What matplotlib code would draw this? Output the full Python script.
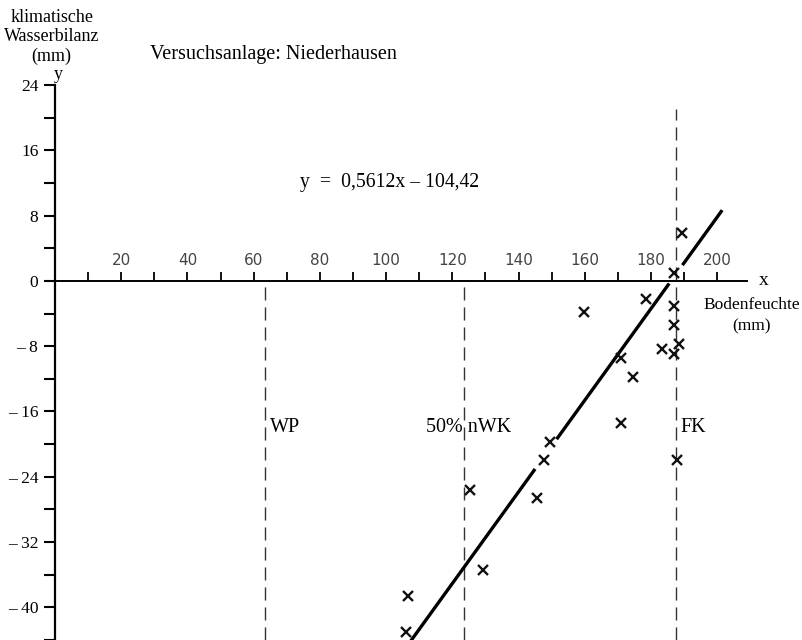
#!/usr/bin/env python3
"""Klimatische Wasserbilanz vs. Bodenfeuchte, Versuchsanlage Niederhausen."""
import matplotlib
matplotlib.use("Agg")
import matplotlib.pyplot as plt
import numpy as np

plt.rcParams["font.family"] = ["Liberation Serif", "DejaVu Serif"]

# measured points (Bodenfeuchte mm, klimatische Wasserbilanz mm)
soil_x = [186.9, 189.4, 178.5, 159.9, 187.1, 187.1, 188.4, 183.2, 187.0, 170.8,
          174.7, 170.8, 149.6, 188.0, 147.7, 125.2, 145.7, 129.3, 106.7, 106.1]
balance_y = [1.0, 5.9, -2.2, -3.8, -3.1, -5.4, -7.7, -8.4, -8.9, -9.5,
             -11.8, -17.4, -19.7, -21.9, -21.9, -25.6, -26.6, -35.4, -38.6, -43.0]

# regression y = 0,5612x - 104,42, drawn in pieces (gaps around marks / axis)
slope, intercept = 0.5612, -104.42
line_pieces = [(107.5, 145.0), (151.5, 185.5), (189.5, 201.5)]

# reference soil moisture levels
levels = {"WP": 63.5, "50% nWK": 123.5, "FK": 187.5}
level_top = {"WP": 0, "50% nWK": 0, "FK": 21}
label_x = {"WP": 65, "50% nWK": 112, "FK": 189}

xticks_major = list(range(20, 201, 20))
xticks_minor = list(range(10, 201, 10))
yticks_major = [-40, -32, -24, -16, -8, 0, 8, 16, 24]
ytick_labels = ["\u2013 40", "\u2013 32", "\u2013 24", "\u2013 16", "\u2013 8", "0", "8", "16", "24"]

fig = plt.figure(figsize=(8.03, 6.4), dpi=100)
ax = fig.add_axes([55 / 803, 0, 692 / 803, 555 / 640])
ax.set_xlim(0, 209)
ax.set_ylim(-44, 24)

for s in ("right", "bottom"):
    ax.spines[s].set_visible(False)
ax.spines["left"].set_position(("data", 0))
ax.spines["top"].set_position(("data", 0))
ax.spines["left"].set_linewidth(1.6)
ax.spines["top"].set_linewidth(1.4)

# x axis sits at y = 0, ticks and labels above it
ax.xaxis.set_ticks_position("top")
ax.set_xticks(xticks_major)
ax.set_xticks(xticks_minor, minor=True)
ax.set_xticklabels([str(v) for v in xticks_major], fontsize=11, family="DejaVu Sans", color="#444")
ax.tick_params(axis="x", which="both", direction="out", length=6.5, width=1.3, pad=3)

ax.set_yticks(yticks_major)
ax.set_yticks(np.arange(-44, 24, 4), minor=True)
ax.set_yticklabels(ytick_labels, fontsize=12.5)
ax.tick_params(axis="y", which="both", direction="out", length=8, width=1.5, pad=4)

for name, xv in levels.items():
    ax.plot([xv, xv], [-44, level_top[name]], color="#333", lw=1.0,
            ls=(0, (9.4, 5)), clip_on=False)
    ax.text(label_x[name], -18, name, fontsize=14.5, va="center", ha="left")

for x0, x1 in line_pieces:
    xs = np.array([x0, x1])
    ax.plot(xs, slope * xs + intercept, color="black", lw=2.4, solid_capstyle="butt")

ax.plot(soil_x, balance_y, ls="none", marker="x", ms=6.5, mew=1.7, color="#111",
        clip_on=False)

ax.text(74, 12, "y  =  0,5612x \u2013 104,42", fontsize=14.2, va="center")
ax.text(28.7, 27.7, "Versuchsanlage: Niederhausen", fontsize=14.5, va="center",
        clip_on=False)
ax.text(1, 25.3, "y", fontsize=13, ha="center", va="center", clip_on=False)
ax.text(-1, 26.4, "klimatische\nWasserbilanz\n(mm)", fontsize=13, ha="center",
        va="bottom", linespacing=1.2, clip_on=False)
ax.text(212.5, 0, "x", fontsize=14, va="center", clip_on=False)
ax.text(210.3, -2.9, "Bodenfeuchte", fontsize=12.5, ha="center", va="center", clip_on=False)
ax.text(210.3, -5.6, "(mm)", fontsize=12.5, ha="center", va="center", clip_on=False)

fig.savefig("out.png", dpi=100)
